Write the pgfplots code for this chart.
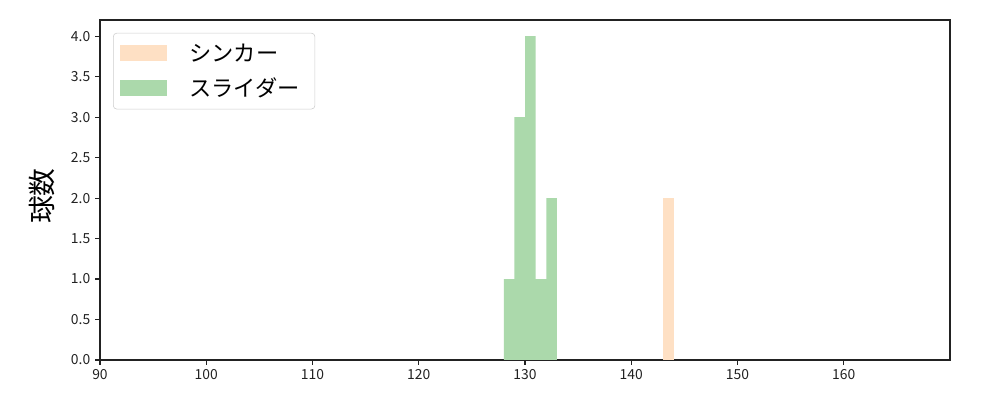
\documentclass[border=0pt]{standalone}
\usepackage{fontspec}
\setmainfont{Noto Sans CJK JP}
\usepackage{pgfplots}
\pgfplotsset{compat=1.18}
\definecolor{sinker}{RGB}{254,224,196}
\definecolor{slider}{RGB}{171,217,171}
\definecolor{axc}{RGB}{34,34,34}
\begin{document}
\begin{tikzpicture}
\begin{axis}[
  scale only axis,
  width=612pt, height=244.8pt,
  at={(0pt,0pt)}, anchor=south west,
  xmin=90, xmax=170, ymin=0, ymax=4.2,
  xtick={90,100,...,160},
  ytick={0,0.5,...,4.0},
  yticklabel style={/pgf/number format/.cd,fixed,fixed zerofill,precision=1},
  /pgf/number format/assume math mode=true,
  tick pos=left,
  tick align=outside,
  major tick length=3.5pt,
  tick style={axc, line width=0.8pt},
  axis line style={axc, line width=0.8pt},
  ticklabel style={font=\fontsize{10}{12}\selectfont, text=axc},
  every axis y label/.style={at={(axis description cs:-0.068,0.482)}, rotate=90, anchor=center, font=\fontsize{20}{24}\selectfont},
  ylabel={球数},
  legend style={at={(axis description cs:0.0153,0.962)}, anchor=north west,
    draw=black!20, rounded corners=2.5pt, fill=white, fill opacity=0.8, text opacity=1,
    font=\fontsize{16}{19}\selectfont, inner xsep=5pt, inner ysep=5.5pt,
    row sep=6.5pt},
  legend cell align=left,
]
\addplot[ybar interval, fill=sinker, draw=none,
  legend image code/.code={\fill[sinker, fill opacity=1, sharp corners] (0pt,-5.8pt) rectangle (33.8pt,5.8pt);}]
  coordinates {(143,2) (144,2)};
\addlegendentry{\kern14pt シンカー\kern4pt}
\addplot[ybar interval, fill=slider, draw=none,
  legend image code/.code={\fill[slider, fill opacity=1, sharp corners] (0pt,-5.8pt) rectangle (33.8pt,5.8pt);}]
  coordinates {(128,1) (129,3) (130,4) (131,1) (132,2) (133,2)};
\addlegendentry{\kern14pt スライダー\kern4pt}
\end{axis}
\path[use as bounding box] (-72pt,-28.8pt) rectangle (648pt,259.2pt);
\end{tikzpicture}
\end{document}
